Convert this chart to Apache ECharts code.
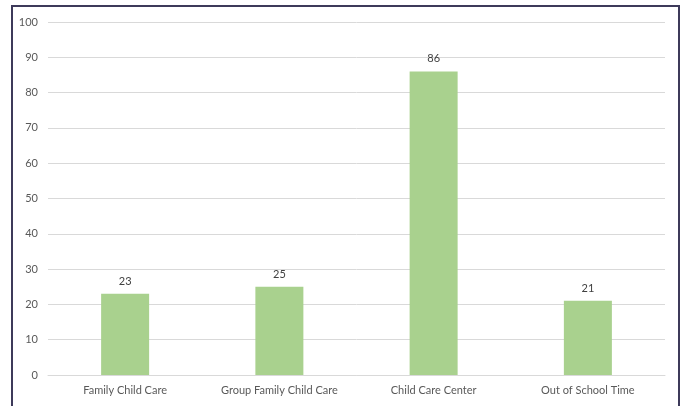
<!DOCTYPE html>
<html><head><meta charset="utf-8">
<script src="https://cdn.jsdelivr.net/npm/echarts@6/dist/echarts.min.js"></script>
<style>
html,body{margin:0;padding:0;background:#fff;overflow:hidden;}
#frame{position:absolute;left:11px;top:5px;width:665px;height:420px;border:2px solid #3d3a5a;box-sizing:content-box;}
#c{position:absolute;left:0;top:0;width:681px;height:406px;}
</style></head>
<body>
<div id="frame"></div>
<div id="c"></div>
<script>
const categories = ["Family Child Care", "Group Family Child Care", "Child Care Center", "Out of School Time"];
const values = [23, 25, 86, 21];
const yTicks = [0, 10, 20, 30, 40, 50, 60, 70, 80, 90, 100];

const chart = echarts.init(document.getElementById('c'), null, {renderer: 'canvas'});
chart.setOption({
  animation: false,
  grid: {left: 48, right: 16, top: 22, bottom: 31, containLabel: false},
  xAxis: {
    type: 'category', data: categories,
    axisLine: {lineStyle: {color: '#d9d9d9', width: 1}},
    axisTick: {show: false},
    axisLabel: {color: '#595959', fontSize: 11, fontFamily: 'Lato', margin: 10, interval: 0}
  },
  yAxis: {
    type: 'value', min: yTicks[0], max: yTicks[yTicks.length - 1], interval: 10,
    axisLine: {show: false}, axisTick: {show: false},
    splitLine: {lineStyle: {color: '#d9d9d9', width: 1}},
    axisLabel: {color: '#595959', fontSize: 11, fontFamily: 'Lato', margin: 10}
  },
  series: [{
    type: 'bar', data: values, barWidth: 48,
    itemStyle: {color: '#a9d18e'},
    label: {show: true, position: 'top', color: '#404040', fontSize: 11, fontFamily: 'Lato', distance: 7}
  }]
});
</script>
</body></html>
